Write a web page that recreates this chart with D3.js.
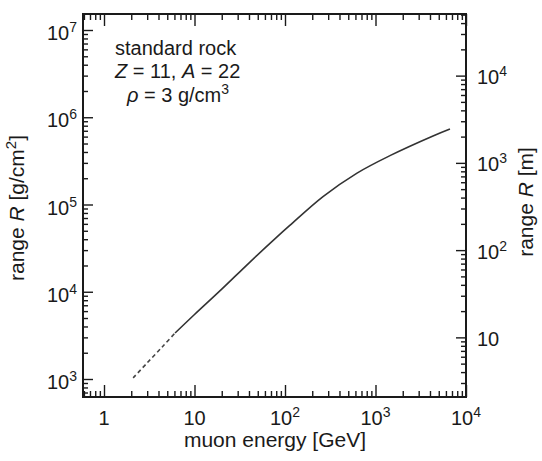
<!DOCTYPE html>
<html>
<head>
<meta charset="utf-8">
<script src="https://d3js.org/d3.v7.min.js"></script>
<style>
  body { margin: 0; background: #fff; }
  text { font-family: "Liberation Sans", Arial, Helvetica, sans-serif; fill: #1a1a1a; }
</style>
</head>
<body>
<svg id="chart" width="542" height="461"></svg>
<script>
// muon range in standard rock
var energy = [2.1, 3, 4.5, 6.1, 10, 20, 41, 80, 113, 263, 625, 1445, 4320, 6650];        // GeV
var range  = [1030, 1530, 2390, 3370, 5480, 10700, 21900, 41700, 57500, 123000, 229000, 363000, 610000, 733000]; // g/cm2
var dashedUpTo = 6.1;   // low-energy part drawn dashed

var xMajor  = [1, 10, 100, 1000, 10000];
var xLabels = [["1", ""], ["10", ""], ["10", "2"], ["10", "3"], ["10", "4"]];
var yMajor  = [1e3, 1e4, 1e5, 1e6, 1e7];
var yLabels = [["10", "3"], ["10", "4"], ["10", "5"], ["10", "6"], ["10", "7"]];
var mMajor  = [10, 100, 1000, 10000];
var mLabels = [["10", ""], ["10", "2"], ["10", "3"], ["10", "4"]];
var rho = 3; // g/cm3 -> 1 m of rock = 300 g/cm2

var L = 83, R = 466, T = 14, B = 397;

var svg = d3.select("#chart");
svg.append("rect").attr("width", 542).attr("height", 461).attr("fill", "#fff");

var x  = d3.scaleLog().domain([1, 1e4]).range([104, 466]);
var y  = d3.scaleLog().domain([1e3, 1e7]).range([379, 30]);
var yM = d3.scaleLog().domain([1e3 / (rho * 100), 1e7 / (rho * 100)]).range([379, 30]);

function minors(lo, hi) {
  var out = [];
  for (var d = Math.floor(Math.log10(lo)); d <= Math.ceil(Math.log10(hi)); d++) {
    for (var k = 2; k <= 9; k++) {
      var v = k * Math.pow(10, d);
      if (v > lo && v < hi) out.push(v);
    }
  }
  return out;
}

var xMin = minors(x.invert(L), x.invert(R));
var yMin = minors(y.invert(B), y.invert(T));
var mMin = minors(yM.invert(B), yM.invert(T));

function styleAxis(g) {
  g.select(".domain").remove();
  g.selectAll("line").attr("stroke", "#1a1a1a").attr("stroke-width", 1.4);
}

// ticks, all pointing inward
[[xMajor, 12], [xMin, 6]].forEach(function (t) {
  svg.append("g").attr("transform", "translate(0," + B + ")")
    .call(d3.axisBottom(x).tickValues(t[0]).tickSize(-t[1]).tickFormat("")).call(styleAxis);
  svg.append("g").attr("transform", "translate(0," + T + ")")
    .call(d3.axisTop(x).tickValues(t[0]).tickSize(-t[1]).tickFormat("")).call(styleAxis);
});
[[yMajor, 10], [yMin, 5]].forEach(function (t) {
  svg.append("g").attr("transform", "translate(" + L + ",0)")
    .call(d3.axisLeft(y).tickValues(t[0]).tickSize(-t[1]).tickFormat("")).call(styleAxis);
});
[[mMajor, 10], [mMin, 5]].forEach(function (t) {
  svg.append("g").attr("transform", "translate(" + R + ",0)")
    .call(d3.axisRight(yM).tickValues(t[0]).tickSize(-t[1]).tickFormat("")).call(styleAxis);
});

// frame
svg.append("rect").attr("x", L).attr("y", T).attr("width", R - L).attr("height", B - T)
  .attr("fill", "none").attr("stroke", "#1a1a1a").attr("stroke-width", 2);

function supText(t, parts) {
  t.append("tspan").text(parts[0]);
  if (parts[1]) t.append("tspan").attr("dy", -8).attr("font-size", 14).text(parts[1]);
}

xMajor.forEach(function (v, i) {
  svg.append("text").attr("x", x(v)).attr("y", 425).attr("text-anchor", "middle")
    .attr("font-size", 20).call(supText, xLabels[i]);
});
yMajor.forEach(function (v, i) {
  svg.append("text").attr("x", 77).attr("y", y(v) + 10).attr("text-anchor", "end")
    .attr("font-size", 20).call(supText, yLabels[i]);
});
mMajor.forEach(function (v, i) {
  svg.append("text").attr("x", 477).attr("y", yM(v) + 8.5).attr("text-anchor", "start")
    .attr("font-size", 20).call(supText, mLabels[i]);
});

// curve
var pts = energy.map(function (e, i) { return { e: e, r: range[i] }; });
var line = d3.line().x(function (d) { return x(d.e); }).y(function (d) { return y(d.r); })
  .curve(d3.curveCatmullRom.alpha(0.5));
svg.append("path").datum(pts.filter(function (d) { return d.e >= dashedUpTo; }))
  .attr("d", line).attr("fill", "none").attr("stroke", "#333").attr("stroke-width", 1.6);
svg.append("path").datum(pts.filter(function (d) { return d.e <= dashedUpTo; }))
  .attr("d", line).attr("fill", "none").attr("stroke", "#444").attr("stroke-width", 1.6)
  .attr("stroke-dasharray", "4,3");

// annotation
svg.append("text").attr("x", 115).attr("y", 55).attr("font-size", 20).text("standard rock");
var t2 = svg.append("text").attr("x", 115).attr("y", 78).attr("font-size", 20);
t2.append("tspan").attr("font-style", "italic").text("Z");
t2.append("tspan").text(" = 11, ");
t2.append("tspan").attr("font-style", "italic").text("A");
t2.append("tspan").text(" = 22");
var t3 = svg.append("text").attr("x", 127).attr("y", 102).attr("font-size", 20);
t3.append("tspan").attr("font-style", "italic").text("ρ");
t3.append("tspan").text(" = 3 g/cm");
t3.append("tspan").attr("dy", -8).attr("font-size", 14).text("3");

// axis titles
svg.append("text").attr("x", 275).attr("y", 447).attr("text-anchor", "middle")
  .attr("font-size", 21).text("muon energy [GeV]");

var lt = svg.append("text").attr("transform", "translate(24,208) rotate(-90)")
  .attr("text-anchor", "middle").attr("font-size", 21);
lt.append("tspan").text("range ");
lt.append("tspan").attr("font-style", "italic").text("R");
lt.append("tspan").text(" [g/cm");
lt.append("tspan").attr("dy", -8).attr("font-size", 15).text("2");
lt.append("tspan").attr("dy", 8).text("]");

var rt = svg.append("text").attr("transform", "translate(533,202) rotate(-90)")
  .attr("text-anchor", "middle").attr("font-size", 21);
rt.append("tspan").text("range ");
rt.append("tspan").attr("font-style", "italic").text("R");
rt.append("tspan").text(" [m]");
</script>
</body>
</html>
